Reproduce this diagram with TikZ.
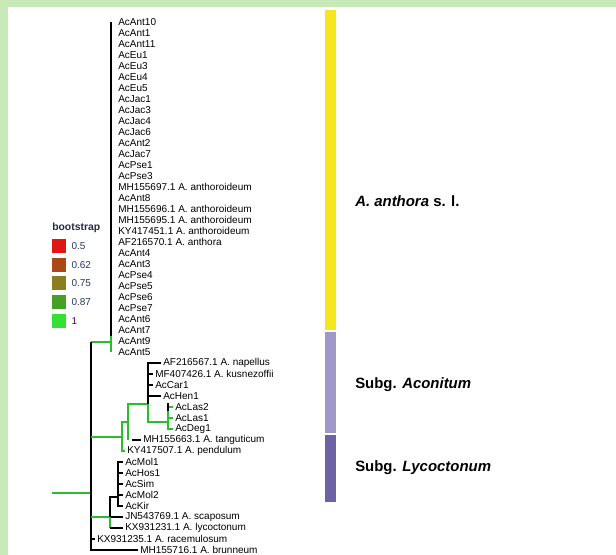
\documentclass[tikz,border=0pt]{standalone}
\usepackage{xcolor}
\usepackage{fontspec}
\setmainfont{Liberation Sans}
\usepackage{tikz}
\usetikzlibrary{positioning, backgrounds}

\definecolor{frameGreen}{RGB}{200,234,185}
\definecolor{bsA}{RGB}{222,22,22}
\definecolor{bsB}{RGB}{172,72,22}
\definecolor{bsC}{RGB}{140,125,32}
\definecolor{bsD}{RGB}{70,160,40}
\definecolor{bsE}{RGB}{50,225,50}
\definecolor{legText}{RGB}{45,55,90}
\definecolor{barYellow}{RGB}{245,230,30}
\definecolor{barLight}{RGB}{160,152,202}
\definecolor{barDark}{RGB}{108,98,165}

\begin{document}
\begin{tikzpicture}[
    x=0.75pt, y=-0.75pt,
    leaf/.style={anchor=west, inner xsep=1.5pt, inner ysep=0pt, font=\fontsize{7.5}{8}\selectfont},
    blk/.style={draw=black, line width=1.2pt},
    bsone/.style={draw=bsE!85!black, line width=1.2pt},
    sq/.style={rectangle, minimum size=10pt, inner sep=0pt},
    leg/.style={anchor=west, inner sep=0pt, font=\fontsize{7.5}{8}\selectfont, text=legText},
    clade/.style={anchor=west, inner sep=0pt, font=\fontsize{11.2}{13}\selectfont\bfseries}
]
\useasboundingbox (0,0) rectangle (616,555);

% ==================== FRAME ====================
\begin{scope}[on background layer]
    \fill[white] (0,0) rectangle (616,555);
    \fill[frameGreen] (0,0) rectangle (616,7);
    \fill[frameGreen] (0,0) rectangle (8,555);
\end{scope}

% ==================== LEAVES ====================
% A. anthora s. l.
\node[leaf] (ant10) at (116,22) {AcAnt10};
\node[leaf] (ant1) at (116,33) {AcAnt1};
\node[leaf] (ant11) at (116,44) {AcAnt11};
\node[leaf] (eu1) at (116,55) {AcEu1};
\node[leaf] (eu3) at (116,66) {AcEu3};
\node[leaf] (eu4) at (116,77) {AcEu4};
\node[leaf] (eu5) at (116,88) {AcEu5};
\node[leaf] (jac1) at (116,99) {AcJac1};
\node[leaf] (jac3) at (116,110) {AcJac3};
\node[leaf] (jac4) at (116,121) {AcJac4};
\node[leaf] (jac6) at (116,132) {AcJac6};
\node[leaf] (ant2) at (116,143) {AcAnt2};
\node[leaf] (jac7) at (116,154) {AcJac7};
\node[leaf] (pse1) at (116,165) {AcPse1};
\node[leaf] (pse3) at (116,176) {AcPse3};
\node[leaf] (mh697) at (116,187) {MH155697.1 A. anthoroideum};
\node[leaf] (ant8) at (116,198) {AcAnt8};
\node[leaf] (mh696) at (116,209) {MH155696.1 A. anthoroideum};
\node[leaf] (mh695) at (116,220) {MH155695.1 A. anthoroideum};
\node[leaf] (ky451) at (116,231) {KY417451.1 A. anthoroideum};
\node[leaf] (af570) at (116,242) {AF216570.1 A. anthora};
\node[leaf] (ant4) at (116,253) {AcAnt4};
\node[leaf] (ant3) at (116,264) {AcAnt3};
\node[leaf] (pse4) at (116,275) {AcPse4};
\node[leaf] (pse5) at (116,286) {AcPse5};
\node[leaf] (pse6) at (116,297) {AcPse6};
\node[leaf] (pse7) at (116,308) {AcPse7};
\node[leaf] (ant6) at (116,319) {AcAnt6};
\node[leaf] (ant7) at (116,330) {AcAnt7};
\node[leaf] (ant9) at (116,341) {AcAnt9};
\node[leaf] (ant5) at (116,352) {AcAnt5};

% Subg. Aconitum
\node[leaf] (nap) at (161,363) {AF216567.1 A. napellus};
\node[leaf] (kus) at (153,374) {MF407426.1 A. kusnezoffii};
\node[leaf] (car1) at (153,385) {AcCar1};
\node[leaf] (hen1) at (161,396) {AcHen1};
\node[leaf] (las2) at (173,407) {AcLas2};
\node[leaf] (las1) at (173,418) {AcLas1};
\node[leaf] (deg1) at (173,429) {AcDeg1};
\node[leaf] (tan) at (141,440) {MH155663.1 A. tanguticum};
\node[leaf] (pen) at (125,451) {KY417507.1 A. pendulum};

% Subg. Lycoctonum
\node[leaf] (mol1) at (123,462) {AcMol1};
\node[leaf] (hos1) at (123,473) {AcHos1};
\node[leaf] (sim) at (123,484) {AcSim};
\node[leaf] (mol2) at (123,495) {AcMol2};
\node[leaf] (kir) at (123,506) {AcKir};
\node[leaf] (sca) at (123,517) {JN543769.1 A. scaposum};
\node[leaf] (lyco) at (123,528) {KX931231.1 A. lycoctonum};
\node[leaf] (rac) at (95,539) {KX931235.1 A. racemulosum};
\node[leaf] (bru) at (138,550) {MH155716.1 A. brunneum};

% ==================== BRANCHES ====================
\coordinate (root) at (91,493);
\coordinate (rootStem) at (52,493);
\coordinate (ant) at (111,342);
\coordinate (antTop) at (111,22);
\coordinate (antMid) at (111,336);
\coordinate (antBot) at (111,352);

\draw[bsone] (rootStem) -- (root);
\draw[bsone] (ant -| root) -- (ant);
\draw[blk] (ant -| root) -- (root |- bru.west) -- (bru.west);
\draw[blk] (antTop) -- (antMid);
\draw[bsone] (antMid) -- (antBot);

% Aconitum clade
\coordinate (aco0) at (122,437);
\coordinate (aco1) at (128,422);
\coordinate (aco2) at (148,404);
\coordinate (aco3) at (168,422);
\draw[bsone] (aco0 -| root) -- (aco0);
\draw[bsone] (aco0) |- (aco1);
\draw[bsone] (aco0) |- (pen.west);
\draw[bsone] (aco1) |- (aco2);
\draw[bsone] (aco1) -- (aco1 |- tan.west);
\draw[blk] ([xshift=3]aco1 |- tan.west) -- (tan.west);
\draw[blk] (aco2) |- (nap.west);
\draw[blk] (aco2) |- (kus.west);
\draw[blk] (aco2) |- (car1.west);
\draw[blk] (aco2) |- (hen1.west);
\draw[bsone] (aco2) |- (aco3);
\draw[bsone] (aco3) |- (deg1.west);
\draw[bsone] (aco3) |- (las1.west);
\draw[bsone] (aco3) |- (las2.west);
\draw[blk] ([yshift=-3]aco3 |- las2.west) -- ([yshift=3]aco3 |- las2.west);

% Lycoctonum clade
\coordinate (lyc) at (110,517);
\coordinate (lyc2) at (118,497);
\draw[bsone] (lyc -| root) -- (lyc);
\draw[blk] (lyc) -- (sca.west);
\draw[blk] (lyc) |- (lyc2);
\draw[bsone] (lyc) -- (lyc |- lyco.west);
\draw[blk] (lyc |- lyco.west) -- (lyco.west);
\draw[blk] (lyc2) |- (mol1.west);
\draw[blk] (lyc2) |- (hos1.west);
\draw[blk] (lyc2) |- (sim.west);
\draw[blk] (lyc2) |- (mol2.west);
\draw[blk] (lyc2) |- (kir.west);
\draw[blk] (root |- rac.west) -- (rac.west);

% ==================== LEGEND ====================
\node[anchor=west, inner sep=0pt, font=\fontsize{7.8}{9}\selectfont\bfseries, text=legText!80!black] (bsTitle) at (52,228) {bootstrap};
\node[sq, fill=bsA] (sqA) at (59,246) {};
\node[sq, fill=bsB] (sqB) at (59,265) {};
\node[sq, fill=bsC] (sqC) at (59,283) {};
\node[sq, fill=bsD] (sqD) at (59,302) {};
\node[sq, fill=bsE] (sqE) at (59,321) {};
\node[leg, right=4pt of sqA] (legA) {0.5};
\node[leg, right=4pt of sqB] (legB) {0.62};
\node[leg, right=4pt of sqC] (legC) {0.75};
\node[leg, right=4pt of sqD] (legD) {0.87};
\node[leg, right=4pt of sqE, text=violet!70!black] (legE) {1};

% ==================== CLADE BAR ====================
\fill[barYellow] (325,10) rectangle (336,330);
\fill[barLight] (325,332) rectangle (336,433);
\fill[barDark] (325,435) rectangle (336,502);
\node[clade] (antLab) at (355,201) {\itshape A. anthora\upshape\ s. l.};
\node[clade] (acoLab) at (355,385) {Subg. \itshape Aconitum};
\node[clade] (lycLab) at (355,468) {Subg. \itshape Lycoctonum};

\end{tikzpicture}
\end{document}
